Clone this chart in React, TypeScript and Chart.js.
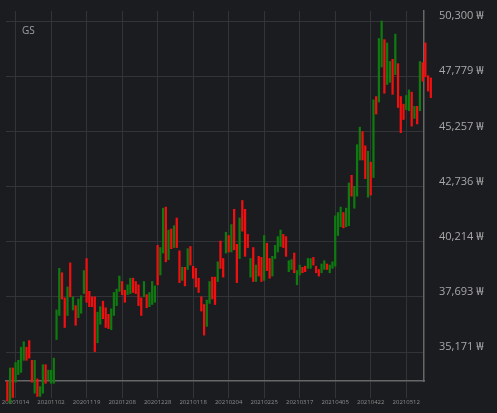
import React, { useEffect, useRef } from 'react';
import { Chart, registerables } from 'chart.js';

Chart.register(...registerables);

const TITLE = 'GS';

const DATES = [
  '20201008', '20201012', '20201013', '20201014', '20201015', '20201016', '20201019', '20201020', '20201021', '20201022',
  '20201023', '20201026', '20201027', '20201028', '20201029', '20201030', '20201102', '20201103', '20201104', '20201105',
  '20201106', '20201109', '20201110', '20201111', '20201112', '20201113', '20201116', '20201117', '20201118', '20201119',
  '20201120', '20201123', '20201124', '20201125', '20201126', '20201127', '20201130', '20201201', '20201202', '20201203',
  '20201204', '20201207', '20201208', '20201209', '20201210', '20201211', '20201214', '20201215', '20201216', '20201217',
  '20201218', '20201221', '20201222', '20201223', '20201224', '20201228', '20201229', '20201230', '20210104', '20210105',
  '20210106', '20210107', '20210108', '20210111', '20210112', '20210113', '20210114', '20210115', '20210118', '20210119',
  '20210120', '20210121', '20210122', '20210125', '20210126', '20210127', '20210128', '20210129', '20210201', '20210202',
  '20210203', '20210204', '20210205', '20210208', '20210209', '20210210', '20210215', '20210216', '20210217', '20210218',
  '20210219', '20210222', '20210223', '20210224', '20210225', '20210226', '20210302', '20210303', '20210304', '20210305',
  '20210308', '20210309', '20210310', '20210311', '20210312', '20210315', '20210316', '20210317', '20210318', '20210319',
  '20210322', '20210323', '20210324', '20210325', '20210326', '20210329', '20210330', '20210331', '20210401', '20210402',
  '20210405', '20210406', '20210407', '20210408', '20210409', '20210412', '20210413', '20210414', '20210415', '20210416',
  '20210419', '20210420', '20210421', '20210422', '20210423', '20210426', '20210427', '20210428', '20210429', '20210430',
  '20210503', '20210504', '20210506', '20210507', '20210510', '20210511', '20210512', '20210513', '20210514', '20210517',
  '20210518', '20210520', '20210521', '20210524', '20210525', '20210526',
];

const TICK_DATES = [
  '20201014', '20201102', '20201119', '20201208', '20201228', '20210118',
  '20210204', '20210225', '20210317', '20210405', '20210422', '20210512',
];

const VIEW_START = '20201008';
const VIEW_END = '20210521';

const HIGH = [
  33850, 34450, 34450, 34700, 34800, 35400, 35650, 35400, 35700, 34800,
  34800, 33950, 33600, 34600, 34600, 34350, 34350, 34900, 37100, 39000,
  38800, 37650, 38150, 39250, 37700, 37300, 37600, 37750, 38900, 39450,
  37950, 37700, 37700, 37000, 37250, 37500, 37200, 36900, 37150, 37900,
  38050, 38650, 38400, 38000, 38250, 38550, 38550, 38400, 38250, 37650,
  38400, 37800, 37900, 38400, 38200, 40050, 39950, 41750, 41800, 40750,
  40800, 40950, 41300, 39800, 39050, 39050, 39900, 40000, 39100, 39000,
  38550, 37700, 37350, 37550, 38400, 38600, 38600, 39300, 40250, 39450,
  40650, 40500, 41000, 41700, 40100, 41300, 42100, 41700, 40550, 39450,
  39950, 39150, 39550, 39500, 40500, 40150, 39450, 39550, 40050, 40450,
  40750, 40550, 40450, 39350, 39400, 39700, 38900, 39150, 39050, 39100,
  39450, 39450, 39500, 39100, 38950, 39200, 39350, 39200, 39150, 39300,
  41400, 41550, 41800, 41550, 41750, 42900, 43250, 42750, 44650, 45450,
  45250, 44600, 44350, 43850, 46700, 46850, 49500, 50300, 49450, 49300,
  48450, 48550, 49700, 48350, 46850, 46500, 46900, 47150, 47050, 46400,
  46400, 48450, 48400, 49300, 47800, 47700,
];

const LOW = [
  32950, 32850, 33100, 33800, 34150, 34250, 34800, 34800, 34900, 33800,
  33300, 33150, 33150, 33300, 33750, 33900, 33750, 33750, 35750, 36850,
  37600, 36300, 36850, 37700, 37100, 36400, 36750, 36950, 37850, 37450,
  37250, 37250, 35200, 35600, 36450, 36700, 36300, 36250, 36200, 36850,
  37300, 37950, 37800, 37450, 37800, 37850, 37900, 37850, 37300, 36850,
  37700, 37200, 37250, 37350, 37450, 38250, 38700, 39700, 39300, 39400,
  39900, 39950, 39950, 38350, 38450, 38200, 38950, 39150, 38550, 38150,
  37900, 37050, 35950, 36350, 37400, 37600, 37350, 38400, 39000, 38600,
  39700, 39750, 39750, 39850, 38350, 39450, 40700, 39550, 39950, 38600,
  38400, 38400, 38650, 38400, 38450, 38900, 38550, 38650, 39450, 39750,
  40000, 39950, 39550, 38850, 38950, 38800, 38250, 38700, 38800, 38850,
  39000, 39000, 39150, 38800, 38650, 38800, 38950, 38950, 38800, 39000,
  39100, 40500, 40900, 40850, 40900, 40950, 42300, 41750, 42300, 43950,
  43950, 43100, 42250, 42350, 43150, 46050, 46600, 48200, 47000, 47400,
  47500, 46950, 47850, 46350, 45200, 45800, 46250, 46200, 45500, 45850,
  45600, 46200, 47550, 47750, 47100, 46800,
];

// 1 = rising day (red), 0 = falling day (green)
const UP = [
  1, 0, 1, 0, 0, 0, 0, 1, 1, 1,
  0, 1, 0, 0, 1, 0, 0, 0, 0, 0,
  1, 1, 0, 1, 0, 1, 0, 0, 0, 1,
  1, 1, 1, 0, 0, 1, 1, 1, 0, 0,
  0, 0, 1, 1, 0, 0, 1, 1, 1, 1,
  0, 1, 0, 0, 0, 1, 0, 0, 1, 0,
  1, 0, 1, 1, 0, 1, 0, 1, 1, 1,
  1, 1, 1, 0, 0, 1, 1, 0, 1, 1,
  0, 1, 0, 1, 1, 0, 1, 1, 1, 0,
  1, 0, 1, 1, 0, 1, 1, 0, 0, 0,
  0, 1, 1, 0, 0, 1, 0, 0, 1, 1,
  0, 0, 1, 1, 1, 0, 0, 1, 0, 0,
  0, 0, 0, 1, 0, 0, 1, 0, 0, 0,
  1, 1, 0, 1, 0, 1, 0, 0, 1, 0,
  0, 1, 0, 1, 1, 1, 0, 0, 1, 0,
  1, 0, 1, 1, 1, 1,
];

const Y_TICKS = [50300, 47779, 45257, 42736, 40214, 37693, 35171];
const Y_MIN = 33855;
const Y_MAX = 50757;

const BG = '#1b1c20';
const GRID = '#333438';
const AXIS = '#676767';
const RED = '#f01010';
const GREEN = '#0f7a0f';
const FONT = "'Open Sans', 'Noto Sans', sans-serif";

const noPad = (s: any) => {
  s.paddingTop = 0;
  s.paddingBottom = 0;
  s.paddingLeft = 0;
  s.paddingRight = 0;
};

export default function App() {
  const ref = useRef<HTMLCanvasElement | null>(null);

  useEffect(() => {
    if (!ref.current) return;
    const bgPlugin = {
      id: 'bg',
      beforeDraw(chart: any) {
        const { ctx, width, height } = chart;
        ctx.save();
        ctx.fillStyle = BG;
        ctx.fillRect(0, 0, width, height);
        ctx.restore();
      },
      afterDraw(chart: any) {
        const { ctx, chartArea } = chart;
        ctx.save();
        ctx.fillStyle = '#9aa0a8';
        ctx.font = `10px ${FONT}`;
        ctx.textBaseline = 'middle';
        ctx.fillText(TITLE, chartArea.left + 16, chartArea.top + 20);
        ctx.restore();
      },
    };

    const chart = new Chart(ref.current, {
      type: 'bar',
      data: {
        labels: DATES,
        datasets: [
          {
            data: DATES.map((_, i) => [LOW[i], HIGH[i]]) as any,
            backgroundColor: UP.map((u) => (u ? RED : GREEN)),
            barThickness: 1.6,
            borderWidth: 0,
            clip: false as any,
          },
        ],
      },
      options: {
        responsive: false,
        animation: false,
        layout: { autoPadding: false, padding: { left: 6, top: 11, right: 0, bottom: 0 } } as any,
        plugins: { legend: { display: false }, tooltip: { enabled: false }, title: { display: false } },
        scales: {
          x: {
            type: 'category',
            min: VIEW_START,
            max: VIEW_END,
            offset: true,
            grid: {
              offset: false,
              drawTicks: true,
              tickLength: 17,
              color: (c: any) => (TICK_DATES.includes(DATES[c.tick?.value]) ? GRID : 'rgba(0,0,0,0)'),
              tickColor: (c: any) => (TICK_DATES.includes(DATES[c.tick?.value]) ? GRID : 'rgba(0,0,0,0)'),
            },
            border: { display: true, color: AXIS, width: 1.5 },
            ticks: {
              autoSkip: false,
              maxRotation: 0,
              minRotation: 0,
              padding: 1,
              color: '#8c8c8c',
              font: { family: FONT, size: 6 },
              callback: (v: any) => (TICK_DATES.includes(DATES[v]) ? DATES[v] : ''),
            },
            afterFit: (s: any) => {
              s.height = 32;
              noPad(s);
            },
          },
          y: {
            position: 'right',
            min: Y_MIN,
            max: Y_MAX,
            grid: { color: GRID, drawTicks: false },
            border: { display: true, color: AXIS, width: 1.5 },
            afterBuildTicks: (s: any) => {
              s.ticks = Y_TICKS.map((v) => ({ value: v }));
            },
            ticks: {
              padding: 15,
              labelOffset: -5,
              color: '#a8a8a8',
              font: { family: FONT, size: 11 },
              callback: (v: any) => `${Number(v).toLocaleString('en-US')} ₩`,
            },
            afterFit: (s: any) => {
              s.width = 73;
              noPad(s);
            },
          },
        },
      },
      plugins: [bgPlugin],
    });
    return () => chart.destroy();
  }, []);

  return (
    <div style={{ position: 'fixed', left: 0, top: 0, width: 497, height: 413, background: BG }}>
      <canvas ref={ref} width={497} height={413} style={{ display: 'block' }} />
    </div>
  );
}
